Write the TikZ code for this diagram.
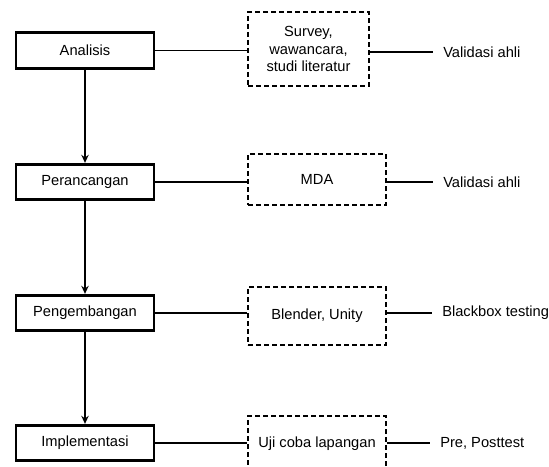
\documentclass[tikz,border=0pt]{standalone}
\usepackage{fontspec}
\setmainfont{Liberation Sans}
\usetikzlibrary{arrows.meta}
\begin{document}
\begin{tikzpicture}[>={Stealth[length=6pt,width=5.5pt]},x=0.75pt,y=-0.75pt,
  every node/.style={font=\fontsize{11}{13}\selectfont},
  tahap/.style={draw,line width=2.2pt,minimum width=103.5pt,minimum height=26.5pt,inner sep=0pt},
  metode/.style={draw,dashed,dash pattern=on 3.5pt off 2.5pt,line width=1pt,align=center,inner sep=0pt},
  hasil/.style={anchor=west,inner xsep=7.5pt,inner ysep=0pt},
  garis/.style={line width=1.2pt}]
\useasboundingbox (0,0) rectangle (549,467);
\clip (0,0) rectangle (549,467);
% tahapan
\node[tahap](analisis) at (85,50.5){Analisis};
\node[tahap](perancangan) at (85,182){Perancangan};
\node[tahap](pengembangan) at (85,313){Pengembangan};
\node[tahap](implementasi) at (85,443){Implementasi};
\draw[garis,->](analisis)--(perancangan);
\draw[garis,->](perancangan)--(pengembangan);
\draw[garis,->](pengembangan)--(implementasi);
% metode
\node[metode,minimum width=90.75pt,minimum height=55.5pt](survey) at (308.5,49){Survey,\\wawancara,\\studi literatur};
\node[metode,minimum width=103.5pt,minimum height=38.25pt](mda) at (317,179.5){MDA};
\node[metode,minimum width=103.5pt,minimum height=43.5pt](blender) at (317,316){Blender, Unity};
\node[metode,minimum width=103.5pt,minimum height=42pt](ujicoba) at (317,444){Uji coba lapangan};
\draw[garis](analisis)--(analisis-|survey.west);
\draw[garis](perancangan)--(perancangan-|mda.west);
\draw[garis](pengembangan)--(pengembangan-|blender.west);
\draw[garis](implementasi)--(implementasi-|ujicoba.west);
% pengujian
\node[hasil](val1) at (433,52){Validasi ahli};
\node[hasil](val2) at (433,182){Validasi ahli};
\node[hasil](blackbox) at (432,313){Blackbox testing};
\node[hasil](prepost) at (430,443){Pre, Posttest};
\draw[garis](survey.east|-val1.west)--(val1.west);
\draw[garis](mda.east|-val2.west)--(val2.west);
\draw[garis](blender.east|-blackbox.west)--(blackbox.west);
\draw[garis](ujicoba.east|-prepost.west)--(prepost.west);
\end{tikzpicture}
\end{document}
